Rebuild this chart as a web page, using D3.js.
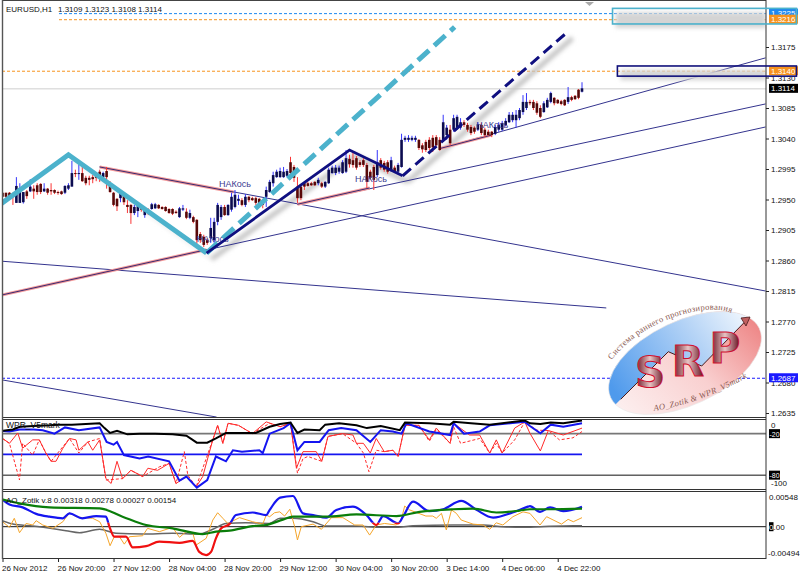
<!DOCTYPE html>
<html><head><meta charset="utf-8">
<script src="https://d3js.org/d3.v7.min.js"></script>
<style>
html,body{margin:0;padding:0;background:#fff}
svg{display:block}
text{font-family:"Liberation Sans",Arial,sans-serif;font-size:8px;fill:#111}
</style></head><body>
<svg id="c" width="800" height="574"></svg>
<script>
// Prices are stored as points above 1.2000 (1114 = 1.3114)
const opens=[960,960,960,958,945,945,946,962,962,966,971,973,962,966,964,964,961,962,960,966,969,989,988,989,982,982,983,986,991,983,992,973,960,951,952,957,942,942,930,933,939,927,935,936,937,942,939,939,936,936,932,
924,935,932,923,924,920,899,895,890,893,890,917,924,939,927,935,939,948,949,942,954,952,952,951,949,954,961,974,983,983,983,985,1005,998,969,969,974,974,974,976,974,974,969,974,989,989,991,989,991,1010,1008,1011,1005,1008,1001,991,998,986,1008,1004,1005,992,997,991,998,1038,1038,1038,1038,1038,1030,1035,1038,1041,1042,1038,1038,1045,1053,1053,1056,1056,1064,1060,1057,1056,1053,1060,1053,1050,1050,1047,1053,1053,1060,1064,1067,1067,1070,1079,1085,1094,1094,1092,1085,1079,1086,1094,1100,1097,1095,1097,1094,1101,1103,1112,1109];
const highs=[961,960,961,960,983,974,961,964,980,971,974,974,974,967,974,965,963,963,971,974,1007,994,1002,1001,985,985,986,989,994,991,998,977,961,952,964,960,949,943,942,942,942,937,937,945,945,943,940,940,937,937,934,
939,942,937,935,926,921,902,898,893,923,923,945,942,942,943,960,964,957,952,958,955,954,954,952,951,969,979,991,994,997,998,995,1013,1001,983,971,976,976,976,977,982,976,977,997,1000,1001,1000,1008,1023,1016,1019,1014,1008,1011,1004,994,1001,1023,1011,1007,1008,1013,1000,1004,1047,1044,1045,1044,1044,1039,1033,1038,1042,1045,1045,1042,1075,1060,1060,1075,1075,1070,1067,1063,1060,1058,1064,1063,1056,1053,1051,1060,1064,1066,1070,1079,1079,1082,1085,1104,1107,1097,1097,1095,1089,1095,1100,1109,1101,1098,1097,1098,1116,1103,1104,1113,1123];
const lows=[951,952,954,942,945,945,944,951,961,951,957,958,961,957,957,958,957,957,958,964,969,983,979,976,971,971,974,977,976,979,966,960,940,933,946,942,930,914,927,924,932,923,927,935,936,936,935,932,929,927,929,
923,933,921,921,915,880,886,880,883,886,886,912,920,926,926,932,937,942,940,939,946,948,942,943,937,939,960,969,982,982,982,983,979,976,945,949,964,969,970,970,971,967,967,973,988,986,988,988,989,997,997,994,998,998,967,979,964,983,994,991,988,991,989,989,997,1035,1035,1036,1035,1023,1019,1020,1023,1020,1029,1022,1035,1038,1030,1050,1053,1053,1057,1050,1045,1047,1051,1045,1042,1044,1042,1045,1050,1051,1058,1063,1064,1056,1067,1075,1082,1089,1082,1075,1070,1078,1085,1092,1089,1091,1089,1088,1091,1095,1097,1098,1108];
const closes=[954,954,955,954,970,967,961,955,969,962,961,961,966,960,962,960,960,958,970,971,989,988,989,977,974,979,980,982,982,989,983,961,942,940,961,946,939,930,939,940,935,936,930,943,943,937,936,933,930,929,930,
937,937,923,930,917,890,890,883,886,908,917,942,939,927,942,954,957,951,942,954,949,949,945,945,942,964,976,986,991,992,991,992,989,982,952,952,969,970,971,971,979,969,976,994,997,997,997,1005,1011,1002,1001,997,1001,1001,976,982,979,1005,997,994,991,1008,991,1001,1038,1041,1041,1041,1041,1026,1024,1023,1026,1027,1030,1023,1064,1056,1033,1070,1072,1064,1060,1053,1048,1050,1061,1048,1045,1045,1045,1057,1060,1063,1066,1075,1075,1075,1082,1094,1094,1092,1085,1078,1072,1092,1097,1107,1092,1092,1091,1089,1101,1097,1098,1100,1114];

const priceTicks=[1175,1130,1085,1040,995,950,905,860,815,770,725,680,635];
const timeTickBars=[0,16,32,48,64,80,96,112,128,144,160];
const timeTickLabels=["26 Nov 2012","26 Nov 20:00","27 Nov 12:00","28 Nov 04:00","28 Nov 20:00","29 Nov 12:00","30 Nov 04:00","30 Nov 20:00","3 Dec 14:00","4 Dec 06:00","4 Dec 22:00"];
const headerQuote="1.3109 1.3123 1.3108 1.3114";

// Drawn objects: [bar, price points]
const cyanZigzag=[[-0.9,942],[19,1016],[58.8,871]];
const cyanDashed=[[58.8,871],[130.3,1204.5]];
const navyZigzag=[[58.8,871],[100,1023],[115.3,985]];
const navyDashed=[[115.3,985],[162.8,1197]];
const thinLines=[[[28,998],[219.9,815]],[[-0.3,809],[219.9,1057]],[[85,943],[219.9,1091]],[[125.9,1025],[219.9,1159]],[[-0.3,859],[174,790]],[[-0.3,684],[61.7,629]]];
const pinkLines=[[[28,998],[66.6,961]],[[-0.3,809],[58.8,876]],[[85,943],[105.8,967]],[[125.9,1025],[140.9,1045]]];
const cyanBox=[175.8,228.8,1232,1209];
const navyBox=[177.2,228.8,1147,1132];
const levelBlueTop=1225, levelOrangeTop=1216, levelOrangeMid=1140, levelCurrent=1114, levelBlueLow=687;
const noteBars=[62.4,101.6,136.5,56], notePrices=[968,976,1056,887];
const noteText="НАКось";

// WPR panel: bar indexes and values
const wprBlackBars=[0,3,5,9,13.5,16,20,24,28,29.4,31,33,36,39.5,44,49,53,56,59,61.5,64.4,68,73,77,80,83,85,87,91.4,93,97,102,105,109,114.5,116,123,129,130,135,140.4,144,150.5,152,155,158,161.6,167];
const wprBlackVals=[-16,-14,-10,-9,-8,-7,-7,-6,-5,-12,-19,-16,-21,-20,-20,-21,-23,-33,-33,-27,-19,-19,-19,-10,-6,-4,-19,-14,-15,-7,-5,-8,-12,-9,-15,-4,-5,-7,-3,-5,-7,-5,-1,-5,-6,-4,-5,-1];
const wprBlueBars=[0,2,5,9,11.6,15,18,22,28,30,32,33,35,39.5,42,48,51,53,56,59,61.5,64.4,66.4,69,74,75,77,81,83,85,87,91.4,94,97.6,102,106,109,112.5,115,116.4,123,129,130,133,137.5,140.4,144,150.5,152,155,158,161.6,167];
const wprBlueVals=[-16,-17,-14,-14,-15,-20,-11,-15,-11,-32,-36,-32,-51,-56,-53,-60,-88,-82,-98,-87,-53,-60,-44,-46,-44,-48,-20,-12,-5,-44,-32,-32,-15,-12,-15,-32,-15,-17,-20,-5,-17,-22,-5,-20,-17,-8,-6,-3,-9,-19.5,-7,-10,-5];
const wprRedBars=[0,2,4.4,5.8,8.7,10.6,12.5,14,15.4,17.4,19.3,21.2,22,24.6,26,28,29.8,31.3,33,34.6,37,40.4,41.9,44.7,48,50,53,55.8,57.7,60.6,62,63.5,65,68,72,76,80,83,84.7,86.6,90.4,92,93.8,98,101,102,104,106,107.7,110,112.5,114,116,120,123,125,129,130,134.6,137.5,140.4,142.3,144,147.6,150.5,152,155,157.3,161.6,167];
const wprRedVals=[-27,-34,-19,-41,-29,-29,-48,-60,-60,-41,-27,-29,-44,-32,-44,-29,-85,-92,-60,-85,-73,-82,-70,-73,-63,-92,-82,-97,-82,-29,-8,-34,-5,-8,-20,-3,-10,-5,-70,-46,-46,-60,-24,-20,-22,-34,-34,-48,-27,-46,-44,-53,-8,-8,-29,-12,-34,-5,-22,-22,-48,-29,-48,-12,-3,-19.5,-45,-15.5,-22,-12];
const wprDashBars=[0,2,4.9,5.8,8.7,10.6,12.5,14,19.3,22,24.6,28,29.8,34.6,37,40.4,45.2,48,50,52.4,53.4,55.8,60.6,62,63.5,65,68,72,77,80,83,85,86.6,88,92,93.8,98,102,104,105.6,107.7,110,112.5,114,116,120,123,125,129,130,132,137.5,140.4,142.3,144,147.6,150.5,154,157.3,160.5,164.4,167];
const wprDashVals=[-27,-34,-87,-34,-51,-29,-48,-60,-27,-48,-32,-27,-87,-85,-73,-82,-68,-63,-92,-46,-80,-97,-29,-8,-34,-5,-8,-20,-5,-10,-5,-77,-56,-53,-60,-24,-20,-34,-48,-75,-44,-46,-44,-53,-8,-8,-31,-14,-34,-10,-34,-27,-48,-34,-48,-29,-3,-15,-15.5,-29,-26,-17];
const wprLevels=[-20,-50,-80];
const wprTitle="WPR_V5mark";

// AO panel: bar indexes and values in thousandths
const aoBlueBars=[0,2,5.8,9.7,13.5,17.4,19.3,23,27,29.8,30.8,32.2,35.6,37.5,41.4,45.2,51,54.8,56.7,58.7,60.1,61.5,63,65.4,67.3,72.1,76,77,80,83.7,86.6,89.5,93.3,96.2,101,104.9,107.7,109.7,114,115.4,118.3,123,127,132.2,136.6,141.4,147,151.4,152,154.9,157.8,161.6,167];
const aoBlueVals=[4.2,3.45,2.99,1.99,1.55,1.3,2.06,1.3,1.65,1.55,0,-1.55,-1.55,-3.2,-3,-2.3,-2.5,-2.2,-3.9,-4.4,-3.9,-1.8,-0.26,0.4,1.8,2.2,1.8,2.6,4.5,4.75,2.06,1.8,1.4,2.6,3.1,1.8,0.26,1.65,0.5,1.55,3.87,2.4,2.7,4,2.6,1.4,2.2,3.1,3.2,2.3,3,2.4,3.1];
const aoGreenBars=[0,4.9,13.5,28,34.6,41.4,49,57.7,61.5,65.4,72.1,76,77,80.8,83.7,93.3,102,113.5,120.2,129.8,135.6,142.3,149,152,157.8,167];
const aoGreenVals=[4.2,3.6,3,2.84,1.55,0.26,-0.26,-1.14,-0.77,-0.62,0.1,0.26,0.4,1.1,1.55,1.55,1.9,1.65,2.3,2.7,2.8,2.2,2.5,2.7,2.7,2.8];
const aoGrayBars=[0,3,8.7,18.3,22.2,28,32.7,40.4,49,56.7,60.6,64.4,70,76.9,80,83.7,89.5,93.3,102,108.7,114,118.3,129.8,138.5,144.2,150,155,164.5,167];
const aoGrayVals=[0.9,0.4,0.1,-0.62,-0.93,-0.4,-1.03,-1.14,-1.03,-1.14,-0.4,0.5,0.62,0.5,1.3,1.3,0.77,0.1,0.1,-0.1,-0.1,0.15,0.26,0.26,0,-0.1,0,0.15,0.15];
const aoOrangeBars=[0,2,3.4,4.9,6.8,8.7,9.7,11.6,14.5,17.4,19.3,21.2,23,26,28,29.8,31,32.2,33.7,35.1,36.6,40.4,41.8,45.2,49,51,52.9,54.8,55.8,58.7,60.6,62,63.5,64.9,68.3,72.1,75,76,77,78.4,79.9,81.3,82.8,84.2,85,86.1,89.5,91.9,94.8,98.1,101.5,103.9,105.8,107.7,110.1,113.5,114.9,115.9,117.3,122,124,125,126.5,127.9,129.4,130.8,132.2,135.6,138.5,140.4,142.3,144.2,147.1,150,152,154.9,156.8,161.1,163,164.5,167];
const aoOrangeVals=[0.77,-0.1,1.3,-0.93,0.5,0.26,0.93,0.26,-0.26,0.77,2.16,1.55,1.4,1.3,0.77,-1.03,-2.95,-1.55,-1.55,-2.7,-1.55,-1.4,-0.26,-0.77,-0.1,-1.65,-0.77,-0.93,-2.84,-1.8,1.03,2.16,1.3,0.5,1.4,0.77,0.4,1.8,1.55,2.16,2.3,1.65,2.7,0,-2.06,0,0.4,-0.4,1.4,1.4,0.26,0.26,-1.3,0.26,0.5,0.26,1.03,3.2,2.6,1.65,1.65,1.3,2.06,-0.5,2.6,2.06,1.03,0.4,0.26,-0.4,0.6,0.26,1.55,2.3,2.06,0.26,1.55,0.4,1.14,0.77,1.4];
const aoRedBelow=0.6;
const aoTitle="AO_Zotik v.8 0.00318 0.00278 0.00027 0.00154";

const logoTop="Система раннего прогнозирования";
const logoBottom="AO_Zotik & WPR_V5mark";
const logoLetters=["S","R","P"];

const NAVY="#0f0f80", CYAN="#4cb2cc", ORANGE="#f7931e", BLUE="#1e88f0";
const svg=d3.select("#c");
const defs=svg.append("defs");
defs.append("filter").attr("id","blur").attr("x","-10%").attr("y","-50%").attr("width","120%").attr("height","200%")
  .append("feGaussianBlur").attr("stdDeviation",2.3);
const addClip=(id,x,y,w,h)=>defs.append("clipPath").attr("id",id).append("rect").attr("x",x).attr("y",y).attr("width",w).attr("height",h);
addClip("mainClip",3,3,763,414); addClip("wprClip",3,420,763,69); addClip("aoClip",3,492,763,66);

const x=d3.scaleLinear().domain([0,167]).range([2.5,582]);
const y=d3.scaleLinear().domain([1175,635]).range([47,413]);
const yW=d3.scaleLinear().domain([0,-100]).range([419.8,489]);
const yA=d3.scaleLinear().domain([5.48,-4.94]).range([491.3,558.6]);
addClip("aoRedClip",3,yA(aoRedBelow),763,558-yA(aoRedBelow));
addClip("aoBlueClip",3,492,763,yA(aoRedBelow)-492);

const line=d3.line().x(d=>x(d[0])).y(d=>y(d[1]));
const main=svg.append("g").attr("clip-path","url(#mainClip)");

// Horizontal levels
const hl=(v,c,dash,x0,w=1)=>main.append("line").attr("x1",x0).attr("x2",766).attr("y1",y(v)+.5).attr("y2",y(v)+.5).attr("stroke",c).attr("stroke-width",w).attr("stroke-dasharray",dash);
hl(levelBlueTop,BLUE,"3,2",59); hl(levelOrangeTop,ORANGE,"3,2",59); hl(levelOrangeMid,ORANGE,"3,2",2);
hl(levelCurrent,"#cfcfcf",null,2); hl(levelBlueLow,"#1a1aff","3,2",2);

// Shadows of drawn objects
const shadows=main.append("g").attr("filter","url(#blur)").attr("transform","translate(5,6)").attr("fill","none").attr("stroke","#c4c4c4");
[navyZigzag,navyDashed].forEach(p=>shadows.append("path").attr("d",line(p)).attr("stroke-width",5));
shadows.append("path").attr("d",line(cyanZigzag.slice(1))).attr("stroke-width",2).attr("stroke","#e2e2e2");
[cyanBox,navyBox].forEach(b=>{
  svg.append("rect").attr("x",x(b[0])+3).attr("y",y(b[2])+4).attr("width",766-x(b[0])-3).attr("height",y(b[3])-y(b[2]))
    .attr("fill","#d4d4d4").attr("filter","url(#blur)").attr("clip-path","url(#mainClip)");
});

// Thin trend lines
thinLines.forEach(p=>main.append("path").attr("d",line(p)).attr("fill","none").attr("stroke","#34348e").attr("stroke-width",1));
pinkLines.forEach(p=>main.append("path").attr("d",line(p)).attr("fill","none").attr("stroke","#f49a9a").attr("stroke-width",3));
pinkLines.forEach(p=>main.append("path").attr("d",line(p)).attr("fill","none").attr("stroke","#3a2a70").attr("stroke-width",1));

// Candles
const idx=d3.range(opens.length);
main.append("g").selectAll("line").data(idx).join("line")
  .attr("x1",i=>x(i)).attr("x2",i=>x(i)).attr("y1",i=>y(highs[i])).attr("y2",i=>y(lows[i]))
  .attr("stroke",i=>closes[i]>=opens[i]?"#3535fa":"#fa3535").attr("stroke-width",1);
main.append("g").selectAll("rect").data(idx).join("rect")
  .attr("x",i=>x(i)-1.3).attr("width",2.6)
  .attr("y",i=>y(Math.max(opens[i],closes[i])))
  .attr("height",i=>Math.max(1,Math.abs(y(opens[i])-y(closes[i]))))
  .attr("fill",i=>closes[i]>=opens[i]?"#0c0c50":"#580808");

// Notes
noteBars.forEach((b,i)=>main.append("text").attr("x",x(b)).attr("y",y(notePrices[i])).text(noteText).style("font-size","9px").style("fill","#3b3b90"));

// Thick objects
main.append("path").attr("d",line(cyanDashed)).attr("fill","none").attr("stroke",CYAN).attr("stroke-width",5).attr("stroke-dasharray","15,7");
main.append("path").attr("d",line(cyanZigzag)).attr("fill","none").attr("stroke",CYAN).attr("stroke-width",5);
main.append("path").attr("d",line(navyZigzag)).attr("fill","none").attr("stroke",NAVY).attr("stroke-width",2.8);
main.append("path").attr("d",line(navyDashed)).attr("fill","none").attr("stroke",NAVY).attr("stroke-width",3).attr("stroke-dasharray","11,6");

// Scroll marker
svg.append("path").attr("d","M585 2 L594 2 L589.5 6 Z").attr("fill","#aaa");

// Logo
const lg=svg.append("g");
const gb=defs.append("linearGradient").attr("id","gb").attr("x1",0).attr("x2",1).attr("y1",0.6).attr("y2",0.1);
gb.append("stop").attr("offset",0).attr("stop-color","#4f9aec"); gb.append("stop").attr("offset",.55).attr("stop-color","#b4d3f6"); gb.append("stop").attr("offset",.95).attr("stop-color","#ffffff");
const gp=defs.append("linearGradient").attr("id","gp").attr("x1",0).attr("x2",1).attr("y1",0.85).attr("y2",0.15);
gp.append("stop").attr("offset",0).attr("stop-color","#fdf2f2"); gp.append("stop").attr("offset",.5).attr("stop-color","#f9d0d0"); gp.append("stop").attr("offset",1).attr("stop-color","#ec7a7a");
const gl=defs.append("linearGradient").attr("id","gl").attr("x1",0).attr("x2",1).attr("y1",0).attr("y2",0);
gl.append("stop").attr("offset",0).attr("stop-color","#5e0616"); gl.append("stop").attr("offset",.5).attr("stop-color","#e8c4c4"); gl.append("stop").attr("offset",1).attr("stop-color","#5e0616");
defs.append("clipPath").attr("id","ell").append("ellipse").attr("cx",685).attr("cy",363).attr("rx",82).attr("ry",42).attr("transform","rotate(-25 685 363)");
const ridge=[[620.7,399.3],[668.3,351.7],[701.7,366],[748.3,318.3]];
const lg2=lg.append("g").attr("clip-path","url(#ell)");
lg2.append("rect").attr("x",600).attr("y",300).attr("width",170).attr("height",120).attr("fill","url(#gp)");
lg2.append("path").attr("d","M"+ridge.join("L")+"L770 296L600 296L600 420Z").attr("fill","url(#gb)");
lg.append("ellipse").attr("cx",685).attr("cy",363).attr("rx",82).attr("ry",42).attr("transform","rotate(-25 685 363)").attr("fill","none").attr("stroke","#e8e8e8").attr("stroke-width",.6);
lg.append("path").attr("d","M"+ridge.join("L")).attr("fill","none").attr("stroke","#4a1a1a").attr("stroke-width",1);
lg.append("path").attr("d","M741 318 L750 317 L746 326 Z").attr("fill","#c06060").attr("stroke","#4a1a1a").attr("stroke-width",.8);
defs.append("path").attr("id","arcTop").attr("d","M612 360 A76 36 -25 0 1 742 320");
defs.append("path").attr("id","arcBot").attr("d","M654 411 Q702 403 750 376");
const logoTxt=(id,t,style,sp)=>lg.append("text").style("font-family","'Liberation Serif',serif").style("font-size","8.5px").style("fill","#8a5a52").style("font-style",style).style("letter-spacing",sp)
  .append("textPath").attr("href","#"+id).text(t);
logoTxt("arcTop",logoTop,"normal","0.3px"); logoTxt("arcBot",logoBottom,"italic","0.35px");
const lx=[650,688,725], ly=[387,376,363];
logoLetters.forEach((L,i)=>lg.append("text").attr("x",lx[i]).attr("y",ly[i]).attr("text-anchor","middle").text(L)
  .style("font-family","'DejaVu Sans'").style("font-size","42px").style("font-weight","bold").style("fill","url(#gl)").style("stroke","#d01030").style("stroke-width",1));

// WPR panel
const pw=svg.append("g").attr("clip-path","url(#wprClip)");
const zipP=(b,v)=>b.map((d,i)=>[d,v[i]]);
const lw=d3.line().x(d=>x(d[0])).y(d=>yW(d[1]));
wprLevels.forEach(v=>{
  const isB=v===-50;
  pw.append("line").attr("x1",2).attr("x2",isB?x(167):766).attr("y1",yW(v)).attr("y2",yW(v))
    .attr("stroke",isB?"#1515f0":(v===-20?"#777":"#111")).attr("stroke-width",isB?1.6:(v===-20?1.6:1));
});
pw.append("path").attr("d",lw(zipP(wprDashBars,wprDashVals))).attr("fill","none").attr("stroke","#ff2a2a").attr("stroke-width",1).attr("stroke-dasharray","3,2");
pw.append("path").attr("d",lw(zipP(wprRedBars,wprRedVals))).attr("fill","none").attr("stroke","#ff2a2a").attr("stroke-width",1);
pw.append("path").attr("d",lw(zipP(wprBlueBars,wprBlueVals))).attr("fill","none").attr("stroke","#1515f0").attr("stroke-width",2);
pw.append("path").attr("d",lw(zipP(wprBlackBars,wprBlackVals))).attr("fill","none").attr("stroke","#000").attr("stroke-width",2);
svg.append("text").attr("x",6).attr("y",428).text(wprTitle).style("font-size","8.5px");

// AO panel
const pa=svg.append("g").attr("clip-path","url(#aoClip)");
const la=d3.line().x(d=>x(d[0])).y(d=>yA(d[1]));
const las=d3.line().x(d=>x(d[0])).y(d=>yA(d[1])).curve(d3.curveMonotoneX);
pa.append("line").attr("x1",2).attr("x2",766).attr("y1",yA(0)).attr("y2",yA(0)).attr("stroke","#111").attr("stroke-width",1);
pa.append("path").attr("d",las(zipP(aoGrayBars,aoGrayVals))).attr("fill","none").attr("stroke","#666").attr("stroke-width",1.5);
pa.append("path").attr("d",la(zipP(aoOrangeBars,aoOrangeVals))).attr("fill","none").attr("stroke","#f5a52a").attr("stroke-width",1);
const ab=las(zipP(aoBlueBars,aoBlueVals));
pa.append("path").attr("d",ab).attr("clip-path","url(#aoBlueClip)").attr("fill","none").attr("stroke","#1515f0").attr("stroke-width",2.2);
pa.append("path").attr("d",ab).attr("clip-path","url(#aoRedClip)").attr("fill","none").attr("stroke","#f01010").attr("stroke-width",2.2);
pa.append("path").attr("d",las(zipP(aoGreenBars,aoGreenVals))).attr("fill","none").attr("stroke","#0a7d0a").attr("stroke-width",2.2);
svg.append("text").attr("x",6).attr("y",503).text(aoTitle);

// Header
svg.append("text").attr("x",6).attr("y",12).text("EURUSD,H1");
svg.append("text").attr("x",58).attr("y",12).text(headerQuote);

// Frames
const fr=(x1,y1,x2,y2,c="#555",w=1)=>svg.append("line").attr("x1",x1).attr("x2",x2).attr("y1",y1).attr("y2",y2).attr("stroke",c).attr("stroke-width",w);
fr(2,0.5,766,0.5,"#444"); fr(2,417.5,766,417.5,"#333"); fr(2,419.5,766,419.5,"#333");
fr(2,489.5,766,489.5,"#333"); fr(2,491.5,766,491.5,"#333"); fr(2,558.5,766,558.5,"#333");
fr(2.5,0,2.5,559,"#555",1.4); fr(766,0,766,559,"#333",1);

const box=(b,c,w)=>svg.append("rect").attr("x",x(b[0])).attr("y",y(b[2])).attr("width",x(b[1])-x(b[0])).attr("height",y(b[3])-y(b[2]))
  .attr("fill","none").attr("stroke",c).attr("stroke-width",w);

// Price axis
const fmt=v=>(1.2+v/10000).toFixed(4);
const ax=svg.append("g").attr("transform","translate(766,0)").call(d3.axisRight(y).tickValues(priceTicks).tickFormat(fmt).tickSize(3).tickPadding(2));
ax.select(".domain").remove(); ax.selectAll("text").style("font-size","8px").style("font-family","'Liberation Sans'");
ax.selectAll("line").attr("stroke","#222");

// Time axis
const tx=svg.append("g").attr("transform","translate(0,559)").call(d3.axisBottom(x).tickValues(timeTickBars).tickFormat((d,i)=>timeTickLabels[i]).tickSize(3).tickPadding(3));
tx.select(".domain").remove();
tx.selectAll("text").attr("text-anchor","start").attr("dx","-1").style("font-size","8px").style("font-family","'Liberation Sans'");
tx.selectAll("line").attr("stroke","#222");

// Price tags
const tag=(v,bg,fg)=>{
  const py=y(v);
  svg.append("rect").attr("x",769).attr("y",py-4.5).attr("width",29).attr("height",9).attr("fill",bg);
  svg.append("text").attr("x",771).attr("y",py+3).text(fmt(v)).style("fill",fg);
};
tag(levelBlueTop,BLUE,"#fff"); tag(levelOrangeTop,ORANGE,"#fff"); tag(levelOrangeMid,ORANGE,"#fff");
tag(levelCurrent,"#000","#fff"); tag(levelBlueLow,"#1a1aff","#fff");
box(cyanBox,CYAN,1.6); box(navyBox,"#10107a",1.6);

// Sub-panel scales
svg.append("text").attr("x",771).attr("y",428).text("0");
[[-20,yW(-20)],[-80,yW(-80)]].forEach(([v,py])=>{
  svg.append("rect").attr("x",769).attr("y",py-4.5).attr("width",11).attr("height",9).attr("fill","#000");
  svg.append("text").attr("x",769.5).attr("y",py+3).attr("textLength",10).attr("lengthAdjust","spacingAndGlyphs").text(v).style("fill","#fff");
});
svg.append("text").attr("x",771).attr("y",486).text("-100");
svg.append("text").attr("x",769).attr("y",500).text("0.00548");
svg.append("rect").attr("x",769).attr("y",yA(0)-4.5).attr("width",4.5).attr("height",9).attr("fill","#000");
svg.append("text").attr("x",769).attr("y",yA(0)+3).text("0").style("fill","#fff");
svg.append("text").attr("x",773.5).attr("y",yA(0)+3).text(".00");
svg.append("text").attr("x",768).attr("y",556).text("-0.00494");
</script></body></html>
